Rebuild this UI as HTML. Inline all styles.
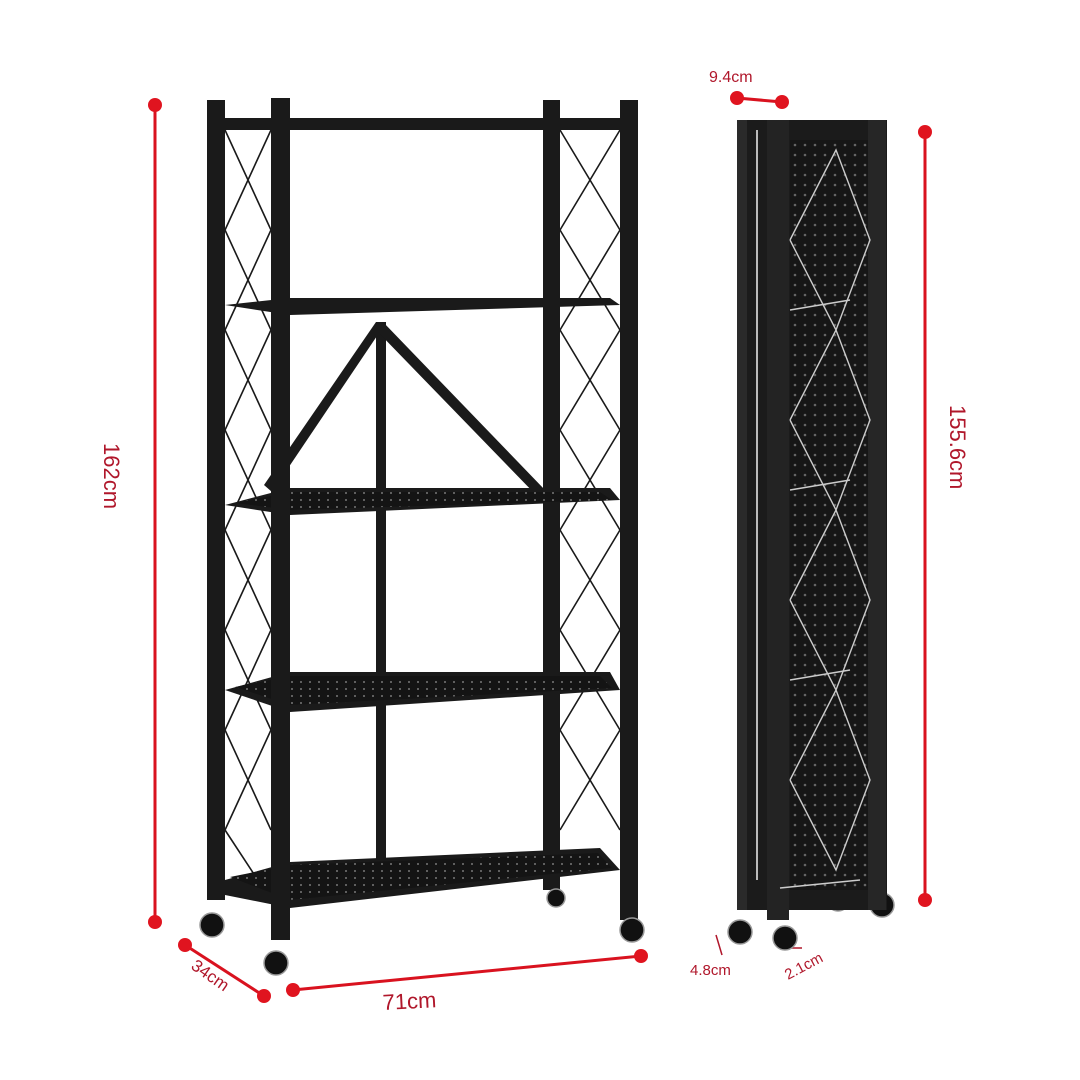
<!DOCTYPE html>
<html><head><meta charset="utf-8"><style>
html,body{margin:0;padding:0;background:#fff;width:1080px;height:1080px;overflow:hidden}
svg{display:block}
text{font-family:"Liberation Sans",sans-serif;fill:#b0172b}
</style></head><body>
<svg width="1080" height="1080" viewBox="0 0 1080 1080" xmlns="http://www.w3.org/2000/svg">
<defs>
<pattern id="dots" width="9" height="7" patternUnits="userSpaceOnUse"><rect width="9" height="7" fill="#141414"/><circle cx="4" cy="3" r="1" fill="#777"/></pattern>
<pattern id="dots2" width="10" height="10" patternUnits="userSpaceOnUse"><rect width="10" height="10" fill="#161616"/><circle cx="5" cy="5" r="1.3" fill="#666"/></pattern>
</defs>
<g stroke="#d9121f" stroke-width="3" fill="#e0141f">
<line x1="155" y1="105" x2="155" y2="922"/><circle cx="155" cy="105" r="7" stroke="none"/><circle cx="155" cy="922" r="7" stroke="none"/>
<line x1="925" y1="132" x2="925" y2="900"/><circle cx="925" cy="132" r="7" stroke="none"/><circle cx="925" cy="900" r="7" stroke="none"/>
<line x1="293" y1="990" x2="641" y2="956"/><circle cx="293" cy="990" r="7" stroke="none"/><circle cx="641" cy="956" r="7" stroke="none"/>
<line x1="185" y1="945" x2="264" y2="996"/><circle cx="185" cy="945" r="7" stroke="none"/><circle cx="264" cy="996" r="7" stroke="none"/>
<line x1="737" y1="98" x2="782" y2="102"/><circle cx="737" cy="98" r="7" stroke="none"/><circle cx="782" cy="102" r="7" stroke="none"/>
</g>
<text x="0" y="0" font-size="22" transform="translate(104,443) rotate(90)">162cm</text>
<text x="0" y="0" font-size="22" transform="translate(950,405) rotate(90)">155.6cm</text>
<text x="383" y="1010" font-size="22" transform="rotate(-3 383 1010)">71cm</text>
<text x="0" y="0" font-size="17" transform="translate(190,968) rotate(35)">34cm</text>
<text x="709" y="82" font-size="16">9.4cm</text>
<text x="690" y="975" font-size="15">4.8cm</text>
<text x="0" y="0" font-size="15" transform="translate(788,980) rotate(-28)">2.1cm</text>
<line x1="716" y1="935" x2="722" y2="955" stroke="#b0172b" stroke-width="1.5"/>
<line x1="790" y1="948" x2="802" y2="948" stroke="#b0172b" stroke-width="1.5"/>

<g stroke="#1a1a1a" stroke-width="1.6" fill="none">
<path d="M225 130 L271 230 M271 130 L225 230 M225 230 L271 330 M271 230 L225 330 M225 330 L271 430 M271 330 L225 430 M225 430 L271 530 M271 430 L225 530 M225 530 L271 630 M271 530 L225 630 M225 630 L271 730 M271 630 L225 730 M225 730 L271 830 M271 730 L225 830 M225 830 L271 900"/>
<path d="M560 130 L620 230 M620 130 L560 230 M560 230 L620 330 M620 230 L560 330 M560 330 L620 430 M620 330 L560 430 M560 430 L620 530 M620 430 L560 530 M560 530 L620 630 M620 530 L560 630 M560 630 L620 730 M620 630 L560 730 M560 730 L620 830 M620 730 L560 830"/>
</g>
<g fill="#1a1a1a">
<rect x="207" y="100" width="18" height="800"/>
<rect x="543" y="100" width="17" height="790"/>
<rect x="207" y="118" width="431" height="12"/>
<polygon points="376,322 386,322 386,880 376,880"/>
<polygon points="376,322 381,330 272,492 264,485"/>
<polygon points="383,322 545,490 538,497 376,330"/>
<polygon points="225,305 290,298 610,298 620,305 290,315"/>
<polygon points="225,505 290,488 610,488 620,500 290,515"/>
<polygon points="225,690 290,672 610,672 620,690 290,712"/>
<polygon points="225,880 290,862 600,848 620,870 290,908 225,895"/>
<polygon points="230,877 290,865 598,853 612,868 290,900" fill="url(#dots)"/>
<polygon points="235,687 290,676 600,676 612,688 290,705" fill="url(#dots)"/>
<polygon points="235,503 290,492 600,492 612,500 290,510" fill="url(#dots)"/>
<rect x="271" y="98" width="19" height="842"/>
<rect x="620" y="100" width="18" height="820"/>
</g>
<g fill="#111" stroke="#999" stroke-width="1.5">
<circle cx="212" cy="925" r="12"/><circle cx="276" cy="963" r="12"/><circle cx="632" cy="930" r="12"/><circle cx="556" cy="898" r="9"/>
<circle cx="740" cy="932" r="12"/><circle cx="785" cy="938" r="12"/><circle cx="838" cy="900" r="11"/><circle cx="882" cy="905" r="12"/>
</g>
<g>
<rect x="737" y="120" width="150" height="790" fill="#1b1b1b"/>
<rect x="790" y="140" width="80" height="750" fill="url(#dots2)"/>
<rect x="737" y="120" width="10" height="790" fill="#2a2a2a"/>
<rect x="767" y="120" width="22" height="800" fill="#232323"/>
<rect x="868" y="120" width="18" height="790" fill="#262626"/>
<line x1="757" y1="130" x2="757" y2="880" stroke="#bbb" stroke-width="2"/>
<g stroke="#ccc" stroke-width="1.4" fill="none">
<path d="M790 240 L836 150 L870 240 L836 330 L790 240 M790 420 L836 330 L870 420 L836 510 L790 420 M790 600 L836 510 L870 600 L836 690 L790 600 M790 780 L836 690 L870 780 L836 870 L790 780"/>
<line x1="790" y1="310" x2="850" y2="300"/><line x1="790" y1="490" x2="850" y2="480"/><line x1="790" y1="680" x2="850" y2="670"/><line x1="780" y1="888" x2="860" y2="880"/>
</g>
</g>
</svg>
</body></html>
